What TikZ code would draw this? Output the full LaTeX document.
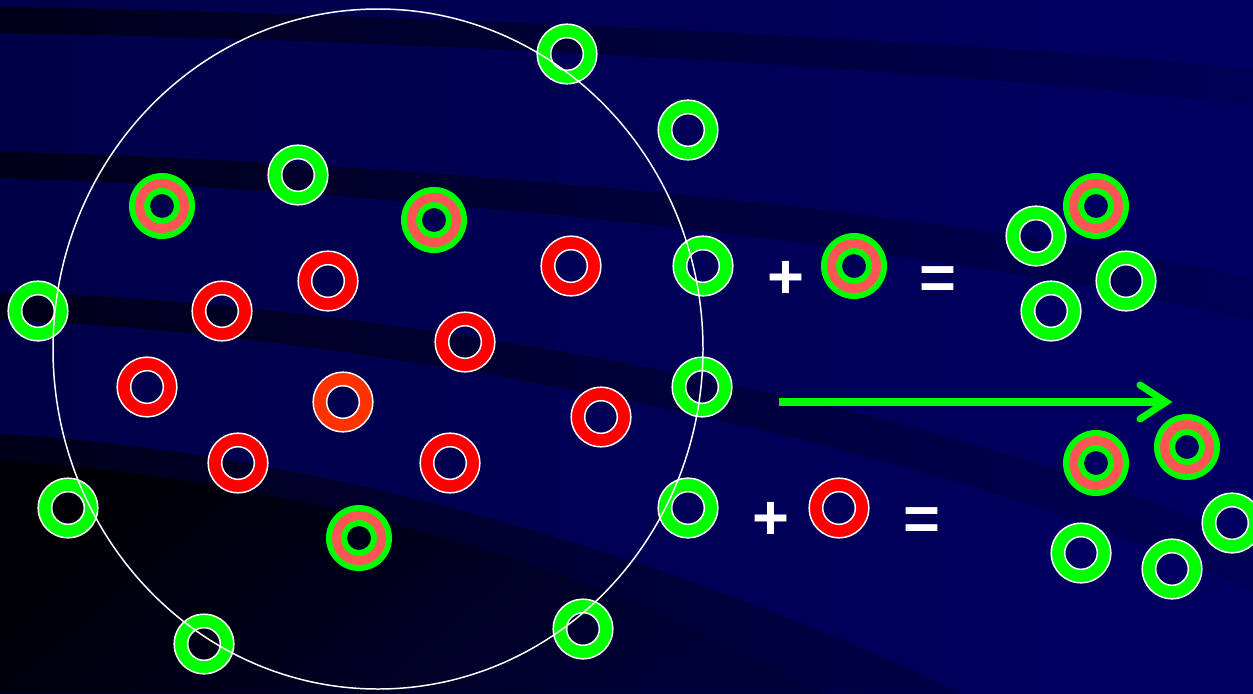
\documentclass[tikz,border=0pt]{standalone}
\usepackage{fontspec}
\setmainfont{Liberation Sans}
\definecolor{bgL}{RGB}{0,0,72}
\definecolor{bgR}{RGB}{0,0,98}
\definecolor{bandL}{RGB}{0,0,26}
\definecolor{bandR}{RGB}{0,0,86}
\definecolor{ringgreen}{RGB}{0,255,0}
\definecolor{ringred}{RGB}{255,0,0}
\definecolor{ringorange}{RGB}{255,51,0}
\definecolor{ringsalmon}{RGB}{255,85,85}
\tikzset{
  bandfill/.style={left color=bandL, right color=bandR},
  simplering/.style={fill=#1, draw=white, line width=0.85pt, even odd rule},
  signtext/.style={text=white, font=\bfseries\fontsize{36}{38}\selectfont, inner sep=0pt},
  arrowline/.style={draw=ringgreen, line width=4pt},
  bigcircle/.style={draw=white, line width=0.85pt}
}
\newcommand\myring[3]{%
  \coordinate (#1) at (#2);
  \filldraw[simplering=#3] (#1) circle (29.8) (#1) circle (16.3);}
\newcommand\mixring[2]{%
  \coordinate (#1) at (#2);
  \fill[ringgreen, even odd rule] (#1) circle (33) (#1) circle (12);
  \fill[ringsalmon, even odd rule] (#1) circle (27) (#1) circle (18);}
\begin{document}
\begin{tikzpicture}[x=0.02cm,y=-0.02cm]
\useasboundingbox (0,0) rectangle (1253,693);
% background
\fill[left color=bgL, right color=bgR] (0,0) rectangle (1253,693);
% dark bands
\fill[bandfill] (0,7) .. controls (300,12) and (900,35) .. (1253,70)
  -- (1253,105) .. controls (900,62) and (300,37) .. (0,33) -- cycle;
\fill[bandfill] (0,152) .. controls (300,158) and (900,200) .. (1253,280)
  -- (1253,320) .. controls (900,235) and (300,185) .. (0,178) -- cycle;
\fill[bandfill] (0,293) .. controls (300,296) and (900,385) .. (1253,545)
  -- (1253,590) .. controls (900,425) and (300,328) .. (0,320) -- cycle;
% bottom-left dark region
\fill[left color={rgb,255:red,0;green,0;blue,26}, right color={rgb,255:red,0;green,0;blue,72}]
  (0,434) .. controls (350,455) and (700,570) .. (960,693) -- (0,693) -- cycle;
\fill[top color={rgb,255:red,0;green,0;blue,6}, bottom color={rgb,255:red,0;green,0;blue,56}, shading angle=40]
  (0,461) .. controls (300,478) and (600,570) .. (820,693) -- (0,693) -- cycle;
% rings inside / on the circle
\myring{g1}{567,54}{ringgreen}
\myring{g2}{688,130}{ringgreen}
\myring{g3}{298,175}{ringgreen}
\myring{g4}{703,266}{ringgreen}
\myring{g5}{38,311}{ringgreen}
\myring{g6}{702,387}{ringgreen}
\myring{g7}{68,508}{ringgreen}
\myring{g8}{688,508}{ringgreen}
\myring{g9}{204,644}{ringgreen}
\myring{g10}{583,629}{ringgreen}
\mixring{m1}{162,206}
\mixring{m2}{434,220}
\mixring{m3}{359,538}
\myring{r1}{328,281}{ringred}
\myring{r2}{571,266}{ringred}
\myring{r3}{222,311}{ringred}
\myring{r4}{465,342}{ringred}
\myring{r5}{147,387}{ringred}
\myring{r6}{601,417}{ringred}
\myring{r7}{238,463}{ringred}
\myring{r8}{450,463}{ringred}
\myring{o1}{343,402}{ringorange}
% equation 1
\node[signtext] (plus1) at (786,280) {+};
\mixring{m4}{854,266}
\node[signtext] (eq1) at (938,283) {=};
\myring{g11}{1036,236}{ringgreen}
\mixring{m5}{1096,206}
\myring{g12}{1126,281}{ringgreen}
\myring{g13}{1051,311}{ringgreen}
% arrow
\coordinate (arrS) at (779,402);
\coordinate (arrE) at (1166,402);
\coordinate (armA) at (1140,385);
\coordinate (armB) at (1140,419);
\draw[arrowline] (arrS) -- (1160,402);
\draw[arrowline, line cap=round, miter limit=10] (armA) -- (arrE) -- (armB);
% equation 2
\node[signtext] (plus2) at (771,521) {+};
\myring{r9}{839,508}{ringred}
\node[signtext] (eq2) at (922,524) {=};
\mixring{m6}{1096,463}
\mixring{m7}{1187,447}
\myring{g14}{1081,553}{ringgreen}
\myring{g15}{1172,569}{ringgreen}
\myring{g16}{1232,523}{ringgreen}
% big circle on top
\draw[bigcircle] (378,349) ellipse [x radius=325, y radius=340];
\end{tikzpicture}
\end{document}
